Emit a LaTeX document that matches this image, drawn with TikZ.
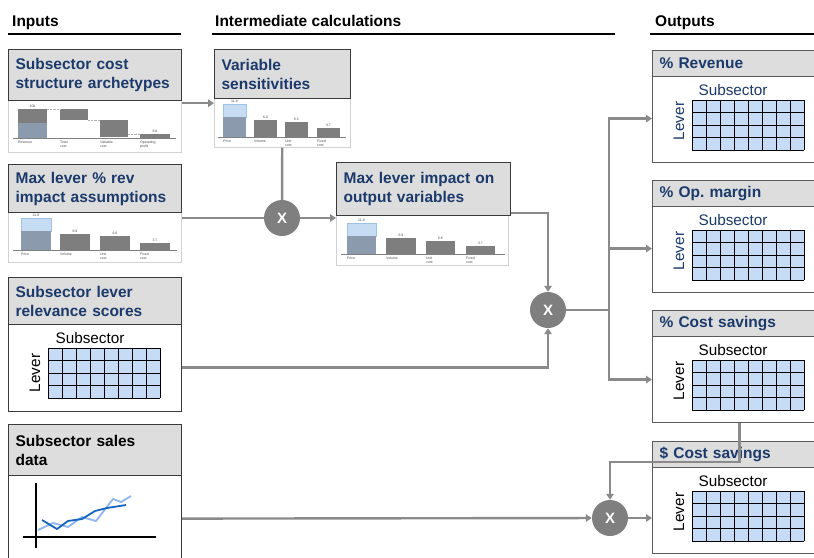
\documentclass[tikz,border=0pt]{standalone}
\usepackage{fontspec}
\setmainfont{Liberation Sans}
\usetikzlibrary{arrows.meta}
\definecolor{dblue}{HTML}{1B3A6B}
\definecolor{bandc}{HTML}{DDDDDD}
\definecolor{boxc}{HTML}{3A3A3A}
\definecolor{oboxc}{HTML}{5A5A5A}
\definecolor{conncol}{HTML}{8A8A8A}
\definecolor{xcol}{HTML}{7F7F7F}
\definecolor{cellblue}{HTML}{C6DCF6}
\definecolor{barg}{HTML}{7E7E7E}
\definecolor{barb}{HTML}{C5DCF3}
\definecolor{barbd}{HTML}{9DC3E6}
\definecolor{barbg}{HTML}{8C9AAE}
\definecolor{lline}{HTML}{8DB6F5}
\definecolor{dline}{HTML}{1565C0}
\newcommand{\lvgrid}[2]{%
  \fill[cellblue] (#1,#2) rectangle ++(112,50);
  \foreach \gi in {0,...,8} \draw[line width=1pt] ({#1+\gi*14},#2) -- ++(0,50);
  \foreach \gj in {0,...,4} \draw[line width=1pt] (#1,{#2+\gj*12.5}) -- ++(112,0);
}
\begin{document}
\begin{tikzpicture}[x=1pt,y=-1pt,
  hdr/.style={font=\fontsize{15.5}{18}\selectfont\bfseries, anchor=base west, inner sep=0},
  rulel/.style={draw=black, line width=1.2pt},
  band/.style={draw=boxc, line width=1.2pt, fill=bandc, anchor=north west, align=left,
    inner xsep=7pt, inner ysep=0pt, font=\fontsize{15.5}{19}\selectfont\bfseries, text=dblue},
  oband/.style={band, draw=oboxc},
  imgbox/.style={draw=gray!35, line width=0.6pt, fill=white, anchor=north west, inner sep=0},
  outer/.style={draw=boxc, line width=1.2pt, fill=white, anchor=north west, inner sep=0},
  obox/.style={outer, draw=oboxc},
  xnode/.style={circle, fill=xcol, minimum size=36pt, inner sep=0, text=white,
    font=\fontsize{15}{15}\selectfont\bfseries},
  conn/.style={draw=conncol, line width=2.4pt},
  arr/.style={-{Triangle[length=6pt,width=7.5pt]}},
  lbl/.style={font=\fontsize{15.3}{15.3}\selectfont, inner sep=0},
  tiny/.style={font=\fontsize{3.5}{4}\selectfont, text=gray!60!black, inner sep=0, align=left},
  base/.style={draw=gray, line width=0.6pt}
]
\useasboundingbox (0,0) rectangle (814,557);
\clip (0,0) rectangle (814,557);

% headers
\node[hdr] (hin) at (12,26.5) {Inputs};
\node[hdr] (hmid) at (215,26.5) {Intermediate calculations};
\node[hdr] (hout) at (655,26.5) {Outputs};
\draw[rulel] (8,34) -- (181,34);
\draw[rulel] (212,34) -- (615,34);
\draw[rulel] (650,34) -- (814,34);

% ---------- Box 1: cost structure archetypes
\node[imgbox, minimum width=173pt, minimum height=52pt] (b1i) at (8,100) {};
\node[band, text width=159pt, minimum height=51pt] (b1t) at (8,49) {Subsector cost\\structure archetypes};
\draw[base] (13,138) -- (176,138);
\fill[barg] (18,109) rectangle (47,123);
\fill[barbg] (18,123) rectangle (47,138);
\fill[barg] (60,109) rectangle (88,120);
\fill[barg] (100,120) rectangle (128,137);
\fill[barg] (140,134) rectangle (170,138);
\draw[gray!60, densely dotted, line width=0.4pt] (47,109) -- (60,109) (88,120) -- (100,120) (128,134) -- (140,134);
\node[tiny] at (32.5,106) {100};
\node[tiny] at (155,131) {8.8};
\node[tiny, anchor=north west] at (18,141) {Revenue};
\node[tiny, anchor=north west] at (60,141) {Total\\cost};
\node[tiny, anchor=north west] at (100,141) {Variable\\cost};
\node[tiny, anchor=north west] at (140,141) {Operating\\profit};

% ---------- Box 2: variable sensitivities
\node[imgbox, minimum width=136pt, minimum height=49pt] (b2i) at (214,98) {};
\node[band, text width=122pt, minimum height=49pt] (b2t) at (214,49) {Variable\\sensitivities};
\draw[base] (218,137) -- (346,137);
\filldraw[fill=barb, draw=barbd, line width=0.4pt] (223,104) rectangle (246,117);
\fill[barbg] (223,117) rectangle (246,137);
\fill[barg] (254,120) rectangle (277,137);
\fill[barg] (285,122) rectangle (308,137);
\fill[barg] (317,128) rectangle (340,137);
\node[tiny] at (234.5,101.5) {11.8};
\node[tiny] at (265.5,117.5) {6.9};
\node[tiny] at (296.5,119.5) {6.5};
\node[tiny] at (328.5,125.5) {3.7};
\node[tiny, anchor=north west] at (223,140) {Price};
\node[tiny, anchor=north west] at (254,140) {Volume};
\node[tiny, anchor=north west] at (285,140) {Unit\\cost};
\node[tiny, anchor=north west] at (317,140) {Fixed\\cost};

% ---------- Box 3: max lever % rev impact
\node[imgbox, minimum width=173pt, minimum height=50pt] (b3i) at (8,212) {};
\node[band, text width=159pt, minimum height=48pt] (b3t) at (8,164) {Max lever \% rev\\impact assumptions};
\draw[base] (13,250) -- (177,250);
\filldraw[fill=barb, draw=barbd, line width=0.4pt] (21,218) rectangle (51,231);
\fill[barbg] (21,231) rectangle (51,250);
\fill[barg] (60,234) rectangle (90,250);
\fill[barg] (100,236) rectangle (130,250);
\fill[barg] (140,243) rectangle (170,250);
\node[tiny] at (36,215.5) {11.8};
\node[tiny] at (75,231.5) {6.9};
\node[tiny] at (115,233.5) {6.6};
\node[tiny] at (155,240.5) {3.7};
\node[tiny, anchor=north west] at (21,253) {Price};
\node[tiny, anchor=north west] at (60,253) {Volume};
\node[tiny, anchor=north west] at (100,253) {Unit\\cost};
\node[tiny, anchor=north west] at (140,253) {Fixed\\cost};

% ---------- Box 4: max lever impact on output variables
\node[imgbox, minimum width=172pt, minimum height=50pt] (b4i) at (336,215) {};
\node[band, text width=160pt, minimum height=53pt] (b4t) at (336,162) {Max lever impact on\\output variables};
\draw[base] (341,254) -- (505,254);
\filldraw[fill=barb, draw=barbd, line width=0.4pt] (347,223) rectangle (376,236);
\fill[barbg] (347,236) rectangle (376,254);
\fill[barg] (386,238) rectangle (416,254);
\fill[barg] (426,241) rectangle (455,254);
\fill[barg] (466,246) rectangle (495,254);
\node[tiny] at (361.5,220.5) {11.8};
\node[tiny] at (401,235.5) {6.9};
\node[tiny] at (440.5,238.5) {6.6};
\node[tiny] at (480.5,243.5) {3.7};
\node[tiny, anchor=north west] at (347,257) {Price};
\node[tiny, anchor=north west] at (386,257) {Volume};
\node[tiny, anchor=north west] at (426,257) {Unit\\cost};
\node[tiny, anchor=north west] at (466,257) {Fixed\\cost};

% ---------- Box 5: relevance scores
\node[outer, minimum width=173pt, minimum height=134pt] (b5) at (8,277) {};
\node[band, text width=159pt, minimum height=47pt] (b5t) at (8,277) {Subsector lever\\relevance scores};
\node[lbl] (b5s) at (90,338) {Subsector};
\node[lbl, rotate=90] (b5l) at (35,373) {Lever};
\lvgrid{48}{348}

% ---------- Box 6: sales data
\node[outer, minimum width=173pt, minimum height=140pt] (b6) at (8,424) {};
\node[band, text=black, text width=159pt, minimum height=51pt] (b6t) at (8,424) {Subsector sales\\data};
\draw[line width=1.3pt] (36,483) -- (36,548);
\draw[line width=1.3pt] (23,537) -- (156,537);
\draw[lline, line width=1.8pt, line join=round] (38,530) -- (53,523) -- (68,527) -- (82,517) -- (96,521) -- (113,499) -- (121,502) -- (131,496);
\draw[dline, line width=1.8pt, line join=round] (42,520) -- (57,529) -- (68,521) -- (82,519) -- (95,511) -- (107,508) -- (126,505);

% ---------- Outputs
\node[obox, minimum width=174pt, minimum height=112pt] (o1) at (652,50) {};
\node[oband, text width=160pt, minimum height=26pt] (o1t) at (652,50) {\% Revenue};
\node[lbl, text=dblue] (o1s) at (733,90) {Subsector};
\node[lbl, text=dblue, rotate=90] (o1l) at (679,121) {Lever};
\lvgrid{692}{100}

\node[obox, minimum width=174pt, minimum height=112pt] (o2) at (652,180) {};
\node[oband, text width=160pt, minimum height=26pt] (o2t) at (652,180) {\% Op.\ margin};
\node[lbl, text=dblue] (o2s) at (733,220) {Subsector};
\node[lbl, text=dblue, rotate=90] (o2l) at (679,251) {Lever};
\lvgrid{692}{230}

\node[obox, minimum width=174pt, minimum height=112pt] (o3) at (652,310) {};
\node[oband, text width=160pt, minimum height=26pt] (o3t) at (652,310) {\% Cost savings};
\node[lbl] (o3s) at (733,350) {Subsector};
\node[lbl, rotate=90] (o3l) at (679,381) {Lever};
\lvgrid{692}{360}

\node[obox, minimum width=174pt, minimum height=112pt] (o4) at (652,441) {};
\node[oband, text width=160pt, minimum height=26pt] (o4t) at (652,441) {\$ Cost savings};
\node[lbl] (o4s) at (733,481) {Subsector};
\node[lbl, rotate=90] (o4l) at (679,512) {Lever};
\lvgrid{692}{491}

% ---------- multiply nodes
\node[xnode] (x1) at (282,218) {X};
\node[xnode] (x2) at (548,310) {X};
\node[xnode] (x3) at (610,518) {X};
\coordinate (br) at (609,310);

% ---------- connectors
\draw[conn, arr] ([yshift=-2pt]b1t.south east) -- ([yshift=-2pt]b1t.south east -| b2i.west);
\draw[conn] (b2i) -- (x1);
\draw[conn] (b3i.east |- x1) -- (x1);
\draw[conn, arr] (x1) -- (x1 -| b4i.west);
\draw[conn, arr] ([yshift=3pt]b4t.south east) -| (x2.north);
\draw[conn, arr] ([yshift=-23pt]b5.east) -| (x2.south);
\draw[conn] (x2) -- (br);
\draw[conn, arr] (br) |- ([yshift=-12pt]o1.west);
\draw[conn, arr] (br) |- ([yshift=-12pt]o2.west);
\draw[conn, arr] (br) |- ([yshift=-13pt]o3.west);
\draw[conn, arr] (o3.south) -- ++(0,39) -| (x3.north);
\draw[conn, arr] ([yshift=-24pt]b6.east) -- (x3);
\draw[conn, arr] (x3) -- (x3 -| o4.west);
\end{tikzpicture}
\end{document}
